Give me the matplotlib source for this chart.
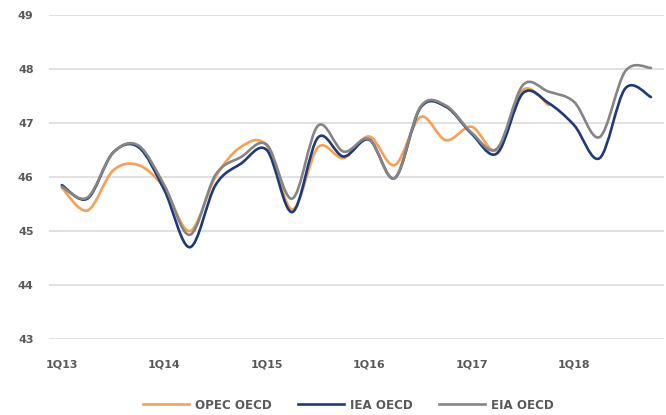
"""
OECD commercial stocks, confronto stime OPEC / IEA / EIA
"""
import matplotlib
matplotlib.use("Agg")
import matplotlib.pyplot as plt
from matplotlib.path import Path
from matplotlib.patches import PathPatch
from matplotlib.lines import Line2D


QUARTERS = [f"{q}Q{y}" for y in range(13, 19) for q in range(1, 5)]
TICK_LABELS = ["1Q13", "1Q14", "1Q15", "1Q16", "1Q17", "1Q18"]

OPEC_OECD = [45.80, 45.38, 46.12, 46.22, 45.80, 45.00, 46.00, 46.56, 46.58, 45.40,
             46.55, 46.35, 46.75, 46.22, 47.11, 46.68, 46.93, 46.50, 47.61, 47.33]
IEA_OECD = [45.85, 45.60, 46.45, 46.55, 45.76, 44.70, 45.85, 46.25, 46.50, 45.35,
            46.73, 46.38, 46.69, 45.98, 47.28, 47.30, 46.80, 46.44, 47.55, 47.37,
            46.96, 46.35, 47.64, 47.48]
EIA_OECD = [45.82, 45.62, 46.45, 46.58, 45.85, 44.93, 46.04, 46.37, 46.60, 45.60,
            46.95, 46.47, 46.70, 45.98, 47.30, 47.32, 46.82, 46.53, 47.70, 47.58,
            47.39, 46.74, 47.96, 48.02]

COLORS = {"OPEC OECD": "#F7A055", "IEA OECD": "#1F3A7A", "EIA OECD": "#858585"}
TEXT_COLOR = "#595959"


def smooth_path(values):
    """
    Curva smussata stile Excel (Bezier cubica, tensione 1/6)
    """
    pts = list(enumerate(values))
    verts = [pts[0]]
    codes = [Path.MOVETO]
    n = len(pts)
    for i in range(n - 1):
        p0 = pts[max(i - 1, 0)]
        p1 = pts[i]
        p2 = pts[i + 1]
        p3 = pts[min(i + 2, n - 1)]
        c1 = (p1[0] + (p2[0] - p0[0]) / 6, p1[1] + (p2[1] - p0[1]) / 6)
        c2 = (p2[0] - (p3[0] - p1[0]) / 6, p2[1] - (p3[1] - p1[1]) / 6)
        verts += [c1, c2, p2]
        codes += [Path.CURVE4] * 3
    return Path(verts, codes)


fig = plt.figure(figsize=(6.66, 4.15), dpi=100)
ax = fig.add_axes([0.0736, 0.183, 0.923, 0.781])

series = [("OPEC OECD", OPEC_OECD), ("IEA OECD", IEA_OECD), ("EIA OECD", EIA_OECD)]
for name, values in series:
    patch = PathPatch(smooth_path(values), facecolor="none", edgecolor=COLORS[name],
                      linewidth=1.9, capstyle="round", joinstyle="round", zorder=3)
    ax.add_patch(patch)

ax.set_xlim(-0.5, len(QUARTERS) - 0.5)
ax.set_ylim(43, 49)
ax.set_yticks(range(43, 50))
ax.set_xticks([QUARTERS.index(t) for t in TICK_LABELS])
ax.set_xticklabels(TICK_LABELS)

ax.grid(axis="y", color="#D9D9D9", linewidth=1.1)
ax.set_axisbelow(True)
for spine in ax.spines.values():
    spine.set_visible(False)
ax.tick_params(axis="both", length=0, labelsize=8, labelcolor=TEXT_COLOR)
ax.tick_params(axis="y", pad=11)
ax.tick_params(axis="x", pad=15)
for label in ax.get_xticklabels() + ax.get_yticklabels():
    label.set_fontweight("bold")

handles = [Line2D([], [], color=COLORS[name], linewidth=1.9) for name, _ in series]
fig.legend(handles, [name for name, _ in series], loc="center",
           bbox_to_anchor=(348 / 666, 1 - 405 / 415), ncol=3, frameon=False,
           handlelength=3.9, handletextpad=0.45, columnspacing=2.2,
           prop={"size": 8.6, "weight": "bold"}, labelcolor=TEXT_COLOR)

fig.savefig("out.png", dpi=100)
